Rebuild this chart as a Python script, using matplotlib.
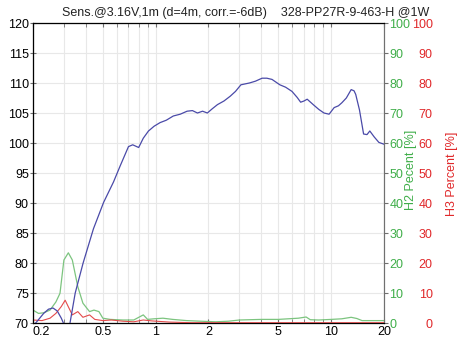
import matplotlib
matplotlib.use("Agg")
import matplotlib.pyplot as plt
from matplotlib.ticker import FixedLocator, NullFormatter

plt.rcParams["font.family"] = ["Liberation Sans", "DejaVu Sans"]

# SPL response (kHz, dB)
spl_freq = [0.2, 0.21, 0.23, 0.245, 0.26, 0.275, 0.29, 0.30, 0.31, 0.32, 0.325,
            0.348, 0.386, 0.442, 0.505, 0.575, 0.628, 0.70, 0.74, 0.80, 0.85,
            0.91, 0.98, 1.06, 1.15, 1.26, 1.38, 1.51, 1.62, 1.73, 1.85, 1.97,
            2.1, 2.25, 2.45, 2.66, 2.85, 3.06, 3.42, 3.7, 4.04, 4.3, 4.6, 5.1,
            5.5, 5.98, 6.4, 6.7, 7.0, 7.3, 7.9, 8.5, 9.1, 9.73, 10.4, 11.0,
            11.5, 12.2, 13.0, 13.5, 13.8, 14.5, 15.3, 16.0, 16.6, 17.6, 18.7, 20.0]
spl_db = [69.5, 70.2, 71.6, 72.3, 72.5, 72.0, 70.8, 69.8, 68.5, 69.3, 70.0,
          75.0, 80.0, 85.7, 90.1, 93.5, 96.2, 99.4, 99.7, 99.25, 100.8,
          102.0, 102.8, 103.4, 103.8, 104.5, 104.8, 105.3, 105.4, 105.0, 105.3, 105.0,
          105.7, 106.4, 107.0, 107.8, 108.6, 109.7, 110.0, 110.3, 110.8, 110.8, 110.6, 109.7,
          109.3, 108.6, 107.6, 106.8, 107.0, 107.3, 106.4, 105.6, 105.0, 104.8, 105.9, 106.2,
          106.7, 107.5, 108.9, 108.7, 108.1, 105.5, 101.5, 101.4, 102.0, 101.0, 100.1, 99.8]

# H2 distortion (kHz, %)
h2_freq = [0.2, 0.215, 0.23, 0.25, 0.27, 0.285, 0.30, 0.318, 0.335, 0.36, 0.385,
           0.42, 0.445, 0.475, 0.5, 0.55, 0.65, 0.75, 0.85, 0.9, 0.98, 1.1, 1.25,
           1.5, 1.8, 2.2, 2.6, 3.0, 4.0, 5.0, 6.5, 7.2, 7.6, 8.5, 10.0, 11.5,
           13.0, 14.0, 15.0, 20.0]
h2_pct = [4.3, 3.2, 3.4, 4.3, 7.0, 9.9, 21.0, 23.4, 21.0, 12.1, 6.6,
          3.8, 4.3, 3.8, 1.6, 1.2, 1.0, 1.0, 2.7, 1.2, 1.4, 1.6, 1.2,
          0.8, 0.6, 0.4, 0.6, 1.0, 1.2, 1.2, 1.6, 2.0, 1.1, 1.0, 1.2, 1.4,
          1.9, 1.5, 0.8, 0.8]

# H3 distortion (kHz, %)
h3_freq = [0.2, 0.225, 0.25, 0.27, 0.29, 0.305, 0.318, 0.335, 0.36, 0.385, 0.42,
           0.45, 0.5, 0.56, 0.65, 0.75, 0.85, 0.95, 1.2, 1.6, 3.0, 10.0, 20.0]
h3_pct = [1.0, 0.8, 1.6, 3.2, 5.5, 7.6, 5.4, 2.7, 3.8, 1.9, 2.7,
          1.2, 0.8, 1.0, 0.6, 0.4, 1.0, 0.7, 0.3, 0.1, 0.1, 0.1, 0.1]

x_ticks = [0.2, 0.5, 1, 2, 5, 10, 20]
x_labels = ["0.2", "0.5", "1", "2", "5", "10", "20"]
db_ticks = list(range(70, 121, 5))
pct_ticks = list(range(0, 101, 10))

title = "Sens.@3.16V,1m (d=4m, corr.=-6dB)    328-PP27R-9-463-H @1W"

BLUE = "#4a4aa8"
GREEN = "#3fae49"
GREEN_LINE = "#7cc47f"
RED = "#e0282a"
RED_LINE = "#e44a4a"
GRID = "#e8e8e8"
FRAME = "#707070"
FS = 9

fig = plt.figure(figsize=(4.62, 3.41), dpi=100)
ax = fig.add_axes([33 / 462, 1 - 323 / 341, (384 - 33) / 462, 300 / 341])

ax.set_xscale("log")
ax.set_xlim(0.2, 20)
ax.set_ylim(70, 120)

minor = [v / 10 for v in range(2, 10)] + list(range(1, 10)) + [10, 20]
ax.xaxis.set_major_locator(FixedLocator(x_ticks))
ax.set_xticklabels(x_labels)
ax.xaxis.set_minor_locator(FixedLocator(minor))
ax.xaxis.set_minor_formatter(NullFormatter())
ax.set_yticks(db_ticks)

ax.grid(True, which="both", axis="x", color=GRID, linewidth=0.8)
ax.grid(True, which="major", axis="y", color=GRID, linewidth=0.8)
ax.set_axisbelow(True)

ax.tick_params(axis="x", which="both", direction="in", length=3, top=True,
               color=FRAME, labelsize=FS, pad=2)
ax.tick_params(axis="y", which="both", direction="inout", length=4,
               color=FRAME, labelsize=FS, pad=1)
# first x label sits right of its tick, as in the original
ax.get_xticklabels()[0].set_horizontalalignment("left")
for s in ax.spines.values():
    s.set_color(FRAME)
    s.set_linewidth(0.8)

ax2 = ax.twinx()
ax2.set_ylim(0, 100)
ax2.set_yticks(pct_ticks)
ax2.tick_params(axis="y", direction="out", length=3, color=FRAME,
                labelcolor=GREEN, labelsize=FS, pad=1)
ax2.spines["right"].set_color(FRAME)

ax3 = ax.twinx()
ax3.set_ylim(0, 100)
ax3.set_yticks(pct_ticks)
ax3.spines["right"].set_visible(False)
ax3.tick_params(axis="y", length=0, labelcolor=RED, labelsize=FS, pad=35)
for lab in ax3.get_yticklabels():
    lab.set_horizontalalignment("right")

ax2.plot(h2_freq, h2_pct, color=GREEN_LINE, linewidth=0.9)
ax3.plot(h3_freq, h3_pct, color=RED_LINE, linewidth=0.8)
ax3.plot(spl_freq, [(v - 70) * 2 for v in spl_db], color=BLUE, linewidth=0.9)

fig.text(62 / 462, 1 - 13 / 341, title, fontsize=9, va="center", ha="left",
         color="#222222")
fig.text(411 / 462, 1 - 170 / 341, "H2 Pecent [%]", rotation=90, color=GREEN,
         fontsize=FS, ha="center", va="center")
fig.text(452 / 462, 1 - 174 / 341, "H3 Percent [%]", rotation=90, color=RED,
         fontsize=FS, ha="center", va="center")

fig.savefig("out.png", dpi=100)
